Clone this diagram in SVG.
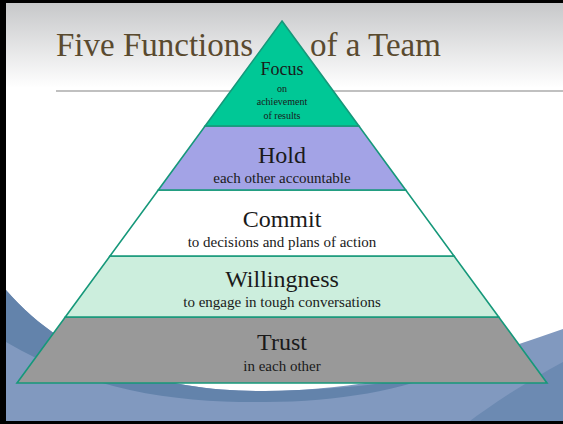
<svg xmlns="http://www.w3.org/2000/svg" width="563" height="424" viewBox="0 0 563 424">
  <defs>
    <linearGradient id="hdr" x1="0" y1="0" x2="0" y2="1">
      <stop offset="0" stop-color="#c5c6c8"/>
      <stop offset="1" stop-color="#ffffff"/>
    </linearGradient>
    <style>
      .lay { stroke: #16987a; stroke-width: 1.6; stroke-linejoin: miter; }
      .t { fill: #1a1a1a; text-anchor: middle; }
      .big { font-size: 24px; }
      .sub { font-size: 15px; }
      .title { font-size: 33px; fill: #5a4a2f; }
    </style>
  </defs>

  <!-- background -->
  <rect x="0" y="0" width="563" height="424" fill="#ffffff"/>
  <rect x="0" y="0" width="563" height="88" fill="url(#hdr)"/>
  <!-- blue swooshes -->
  <path d="M 6,290 C 72,366 170,392 265,391 C 380,390 470,362 563,329 L 563,424 L 6,424 Z" fill="#8199bf"/>
  <path d="M 6,290 C 72,366 170,392 265,391 C 340,390 400,383 455,369 C 400,390 340,402 265,402 C 180,403 90,392 6,342 Z" fill="#6383ab"/>
  <path d="M 466,424 C 495,402 528,381 563,362 L 563,424 Z" fill="#6c8ab2"/>
  <!-- frame -->
  <rect x="0" y="0" width="563" height="3" fill="#000"/>
  <rect x="0" y="0" width="6" height="424" fill="#000"/>
  <rect x="0" y="421" width="563" height="3" fill="#000"/>

  <g font-family="'Liberation Serif', 'Times New Roman', 'DejaVu Serif', serif">
  <!-- title -->
  <g id="title">
    <text class="title" y="56"><tspan x="56">Five Functions</tspan><tspan x="310">of a Team</tspan></text>
    <line x1="56" y1="91" x2="563" y2="91" stroke="#ababab" stroke-width="1.5"/>
  </g>

  <g id="connectors"/>

  <g id="layer-trust">
    <polygon class="lay" points="65.3,317 498.7,317 547,383 17,383" fill="#999999"/>
    <text class="t big" x="282" y="350">Trust</text>
    <text class="t sub" x="282" y="371">in each other</text>
  </g>
  <g id="layer-willingness">
    <polygon class="lay" points="110,256 454,256 498.7,317 65.3,317" fill="#cceedd"/>
    <text class="t big" x="282" y="287">Willingness</text>
    <text class="t sub" x="282" y="307">to engage in tough conversations</text>
  </g>
  <g id="layer-commit">
    <polygon class="lay" points="158.3,190 405.7,190 454,256 110,256" fill="#ffffff"/>
    <text class="t big" x="282" y="226.5">Commit</text>
    <text class="t sub" x="282" y="246.5">to decisions and plans of action</text>
  </g>
  <g id="layer-hold">
    <polygon class="lay" points="205.1,126 358.9,126 405.7,190 158.3,190" fill="#a3a3e6"/>
    <text class="t big" x="282" y="163">Hold</text>
    <text class="t sub" x="282" y="183">each other accountable</text>
  </g>
  <g id="layer-focus">
    <polygon class="lay" points="282,21 358.9,126 205.1,126" fill="#00c896"/>
    <text class="t" x="282" y="75" font-size="18">Focus</text>
    <text class="t" x="282" y="91.5" font-size="10">on</text>
    <text class="t" x="282" y="105" font-size="10">achievement</text>
    <text class="t" x="282" y="118.5" font-size="10">of results</text>
  </g>
  </g>
</svg>
